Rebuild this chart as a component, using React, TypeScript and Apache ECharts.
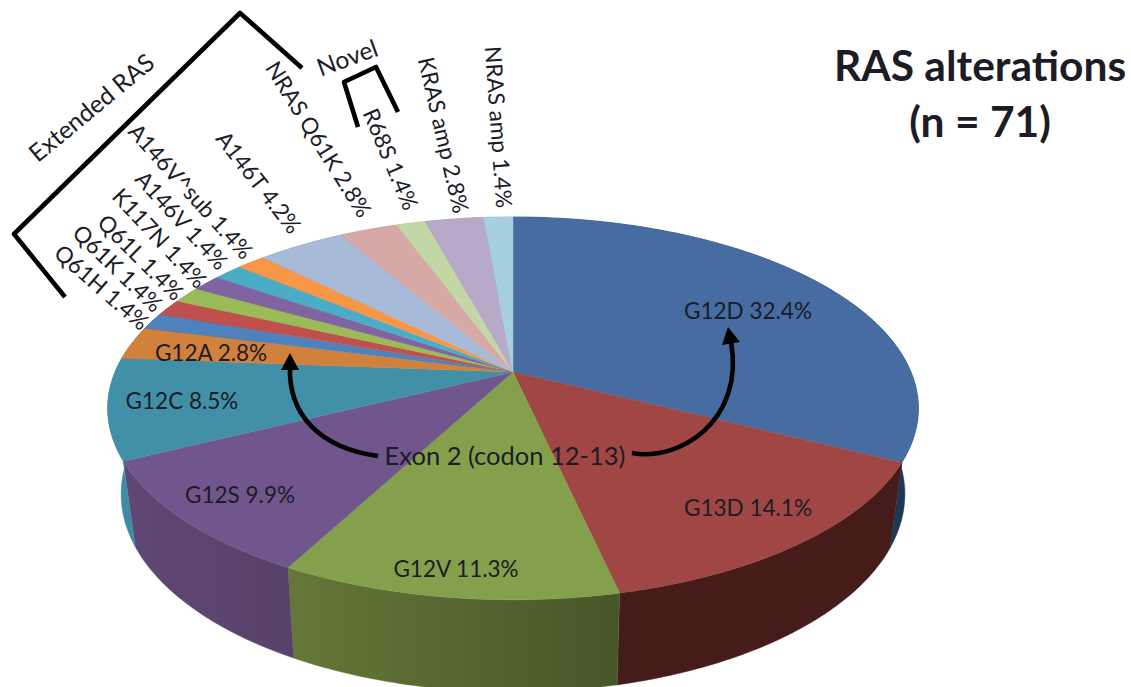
import React, { useEffect, useRef } from "react";
import * as echarts from "echarts";

// Alteration frequencies (%), clockwise from twelve o'clock.
const categories = [
  "G12D", "G13D", "G12V", "G12S", "G12C", "G12A",
  "Q61H", "Q61K", "Q61L", "K117N", "A146V", "A146V^sub",
  "A146T", "NRAS Q61K", "R68S", "KRAS amp", "NRAS amp",
];
const percentages = [
  32.4, 14.1, 11.3, 9.9, 8.5, 2.8,
  1.4, 1.4, 1.4, 1.4, 1.4, 1.4,
  4.2, 2.8, 1.4, 2.8, 1.4,
];
const titleLines = ["RAS alterations", "(n = 71)"];
const groupLabels = ["Extended RAS", "Novel", "Exon 2 (codon 12-13)"];

const topColors = [
  "#466ca1", "#a04644", "#85a04d", "#70568c", "#4190a8", "#d2813c",
  "#4f81bd", "#c0504d", "#9bbb59", "#8064a2", "#4bacc6", "#f79646",
  "#a7bbd9", "#d6a8a6", "#c3d6a5", "#b7aac9", "#a6d0de",
];
// Side wall shading: left and right ends of each slice's wall.
const wallColors: [string, string][] = [
  ["#1d3856", "#1d3856"], ["#451c19", "#451c19"], ["#66773a", "#465628"],
  ["#604774", "#574269"], ["#3e8ca4", "#3e8ca4"], ["#a8642c", "#a8642c"],
  ["#3d6391", "#3d6391"], ["#933d3b", "#933d3b"], ["#768f44", "#768f44"],
  ["#624c7c", "#624c7c"], ["#398498", "#398498"], ["#bd7336", "#bd7336"],
  ["#7f8fa6", "#7f8fa6"], ["#a3807f", "#a3807f"], ["#95a37e", "#95a37e"],
  ["#8c8299", "#8c8299"], ["#7f9faa", "#7f9faa"],
];

// Perspective discs for the top face and the floor of the pie.
const TOP_DISC = { cx: 513, cy: 372, a: 398, b: 184.5, k: 0.19 };
const FLOOR_DISC = { cx: 513, cy: 454.5, a: 384, b: 190, k: 0.2 };

const project = (disc: typeof TOP_DISC, theta: number): [number, number] => {
  const u = Math.sin(theta);
  const v = Math.cos(theta);
  const s = 1 / (1 + disc.k * v);
  return [disc.cx + disc.a * u * s, disc.cy - disc.b * v * s];
};

const total = percentages.reduce((sum, p) => sum + p, 0);
const sliceAngles = (index: number): [number, number] => {
  const before = percentages.slice(0, index).reduce((sum, p) => sum + p, 0);
  const toAngle = (p: number) => (p / total) * Math.PI * 2;
  return [toAngle(before), toAngle(before + percentages[index])];
};

const arcPoints = (disc: typeof TOP_DISC, from: number, to: number) => {
  const steps = Math.max(6, Math.ceil((to - from) / 0.015));
  const pts: [number, number][] = [];
  for (let i = 0; i <= steps; i++) {
    pts.push(project(disc, from + ((to - from) * i) / steps));
  }
  return pts;
};

const renderWall = (params: any, api: any) => {
  const i = params.dataIndex;
  api.value(0);
  const [from, to] = sliceAngles(i);
  const points = [
    ...arcPoints(TOP_DISC, from, to),
    ...arcPoints(FLOOR_DISC, from, to).reverse(),
  ];
  const [c0, c1] = wallColors[i];
  return {
    type: "polygon",
    shape: { points },
    silent: true,
    style: {
      fill: {
        type: "linear", x: 0, y: 0, x2: 1, y2: 0,
        colorStops: [
          { offset: 0, color: c0 },
          { offset: 1, color: c1 },
        ],
      },
      stroke: c0,
      lineWidth: 0.4,
    },
  };
};

const renderTop = (params: any, api: any) => {
  const i = params.dataIndex;
  api.value(0);
  const [from, to] = sliceAngles(i);
  const points = [[TOP_DISC.cx, TOP_DISC.cy], ...arcPoints(TOP_DISC, from, to)];
  return {
    type: "polygon",
    shape: { points },
    silent: true,
    style: { fill: topColors[i], stroke: topColors[i], lineWidth: 0.4 },
  };
};

const FONT = "Lato, 'Open Sans', sans-serif";
const INK = "#1c1c26";

const textEl = (
  text: string, x: number, y: number, deg: number, size: number, weight: string = "normal",
) => ({
  type: "text",
  x, y,
  rotation: (deg * Math.PI) / 180,
  z: 50,
  silent: true,
  style: {
    text, fill: INK, font: `${weight} ${size}px ${FONT}`,
    align: "center", verticalAlign: "middle",
  },
});

// Anchor and rotation of each slice's caption, in category order.
const captionPlacement: [number, number, number][] = [
  [748, 310, 0], [748, 507, 0], [456, 568, 0], [240, 494, 0], [182, 400, 0], [211, 352, 0],
  [102, 287, -41], [118, 268, -44], [141, 257, -45], [160, 238, -47], [182, 220, -47.5], [191, 191, -48],
  [259, 182, -52], [319, 139, -58], [391, 159, -67], [444, 135, -77], [499, 127, -86],
];

const stroke = { stroke: "#000", lineWidth: 4.6, fill: "none", lineJoin: "round" };

const annotations = [
  ...categories.map((name, i) => {
    const [x, y, deg] = captionPlacement[i];
    return textEl(`${name} ${percentages[i]}%`, x, y, deg, 22.5);
  }),
  textEl(titleLines[0], 980, 64, 0, 42.5, "bold"),
  textEl(titleLines[1], 980, 120, 0, 42.5, "bold"),
  textEl(groupLabels[0], 91, 107, 39.6, 24.5),
  textEl(groupLabels[1], 347, 57, 20, 24.5),
  textEl(groupLabels[2], 505, 455, 0, 25.5),
  {
    type: "polyline", z: 40, silent: true,
    shape: { points: [[65, 297], [14, 234], [240, 13], [302, 68]] },
    style: stroke,
  },
  {
    type: "polyline", z: 40, silent: true,
    shape: { points: [[358, 127], [344, 82], [376, 67], [398, 112]] },
    style: stroke,
  },
  {
    type: "bezierCurve", z: 40, silent: true,
    shape: { x1: 378, y1: 456, cpx1: 320, cpy1: 448, cpx2: 288, cpy2: 415, x2: 290, y2: 366 },
    style: stroke,
  },
  {
    type: "polygon", z: 40, silent: true,
    shape: { points: [[290, 353], [281, 370], [299, 370]] },
    style: { fill: "#000" },
  },
  {
    type: "bezierCurve", z: 40, silent: true,
    shape: { x1: 632, y1: 453, cpx1: 680, cpy1: 462, cpx2: 745, cpy2: 420, x2: 731, y2: 342 },
    style: stroke,
  },
  {
    type: "polygon", z: 40, silent: true,
    shape: { points: [[728, 327], [722, 345], [740, 342]] },
    style: { fill: "#000" },
  },
];

export default function App() {
  const ref = useRef<HTMLDivElement>(null);
  useEffect(() => {
    if (!ref.current) return;
    const chart = echarts.init(ref.current, undefined, { renderer: "svg" });
    const data = percentages.map((value, i) => ({ name: categories[i], value }));
    chart.setOption({
      animation: false,
      backgroundColor: "#fff",
      graphic: { elements: annotations },
      series: [
        { type: "custom", coordinateSystem: "none", renderItem: renderWall, data, z: 2, silent: true },
        { type: "custom", coordinateSystem: "none", renderItem: renderTop, data, z: 3, silent: true },
      ],
    });
    return () => chart.dispose();
  }, []);
  return (
    <div
      ref={ref}
      style={{ position: "fixed", left: 0, top: 0, width: 1131, height: 687 }}
    />
  );
}
